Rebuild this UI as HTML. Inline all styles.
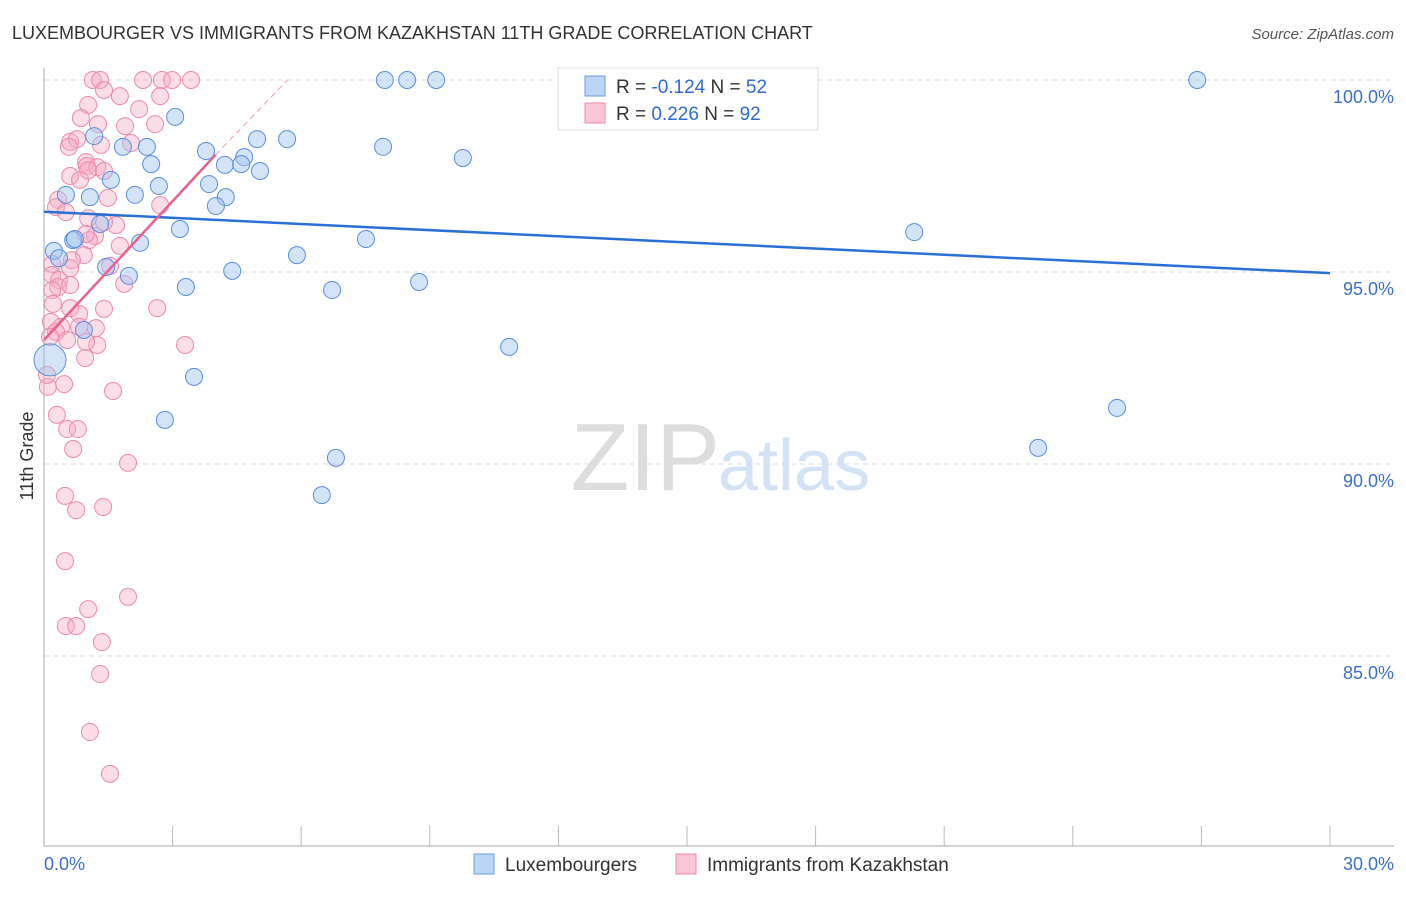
<!DOCTYPE html>
<html><head><meta charset="utf-8"><style>
body{margin:0;background:#fff;font-family:"Liberation Sans",sans-serif;}
svg text{font-family:"Liberation Sans",sans-serif;}
</style></head><body>
<svg width="1406" height="892">
<text x="12" y="39" font-size="18" fill="#333">LUXEMBOURGER VS IMMIGRANTS FROM KAZAKHSTAN 11TH GRADE CORRELATION CHART</text>
<text x="1394" y="39" font-size="15" fill="#555" text-anchor="end" font-style="italic">Source: ZipAtlas.com</text>
<text x="33" y="456" font-size="18" fill="#333" text-anchor="middle" transform="rotate(-90 33 456)">11th Grade</text>
<g id="grid"></g>
<text x="720" y="490" font-size="96" fill="#ddd" text-anchor="end" font-family="Liberation Serif">ZIP</text>
<text x="718" y="490" font-size="72" fill="#d3e2f5">atlas</text>
<line x1="44" y1="68" x2="44" y2="846" stroke="#aaa"/>
<line x1="44" y1="846" x2="1394" y2="846" stroke="#aaa"/>
<g id="pts"></g>
<g id="lines"></g>
<text x="44" y="870" font-size="18" fill="#3a70c8">0.0%</text>
<text x="1394" y="870" font-size="18" fill="#3a70c8" text-anchor="end">30.0%</text>
<g>
<rect x="558" y="68" width="260" height="62" fill="#fff" stroke="#ddd"/>
<rect x="585" y="76" width="20" height="20" fill="#bcd4f5" stroke="#6d9be0"/>
<rect x="585" y="103" width="20" height="20" fill="#f9c6d6" stroke="#ec8aaa"/>
<text x="616" y="93" font-size="19" fill="#333">R = <tspan fill="#2f6bd0">-0.124</tspan>   N = <tspan fill="#2f6bd0">52</tspan></text>
<text x="616" y="120" font-size="19" fill="#333">R =  <tspan fill="#2f6bd0">0.226</tspan>   N = <tspan fill="#2f6bd0">92</tspan></text>
</g>
<g>
<rect x="474" y="854" width="20" height="20" fill="#bcd4f5" stroke="#6d9be0"/>
<text x="505" y="871" font-size="19" fill="#333">Luxembourgers</text>
<rect x="676" y="854" width="20" height="20" fill="#f9c6d6" stroke="#ec8aaa"/>
<text x="707" y="871" font-size="19" fill="#333">Immigrants from Kazakhstan</text>
</g>
</svg>
<script>
const yTicks=[100,95,90,85];
const blueX=[7.95,8.47,9.15,26.9,3.06,1.17,1.84,2.4,4.97,5.67,7.91,9.77,3.78,4.67,2.5,4.22,4.6,5.04,1.56,2.68,3.85,0.51,2.12,1.07,4.24,4.01,1.31,3.17,0.68,2.24,0.72,20.3,7.51,0.23,0.35,5.9,1.45,1.98,4.39,3.31,6.72,8.75,0.93,3.5,10.85,2.82,25.03,6.81,23.19,6.48,0.14];
const blueY=[100,100,100,100,99.04,98.54,98.26,98.26,98.46,98.46,98.26,97.97,98.15,97.99,97.81,97.79,97.81,97.63,97.4,97.24,97.29,97.01,97.01,96.95,96.95,96.72,96.25,96.12,95.83,95.76,95.86,96.04,95.86,95.55,95.36,95.44,95.13,94.9,95.03,94.61,94.53,94.74,93.49,92.27,93.05,91.15,91.46,90.16,90.42,89.19,92.71];
const pinkX=[1.14,1.31,2.75,2.99,3.43,1.4,1.77,1.03,2.22,0.86,1.26,1.89,0.61,0.77,0.58,1.33,2.03,0.98,0.61,1.0,1.24,0.84,1.49,0.33,0.28,1.68,1.03,1.4,1.19,1.05,2.71,0.93,1.77,1.54,0.98,0.65,0.19,0.19,0.35,0.33,0.19,0.61,0.21,0.61,0.82,1.4,1.87,2.64,0.4,0.82,1.21,0.16,0.28,0.54,1.24,0.96,0.14,3.29,0.98,1.61,0.47,0.09,0.07,0.3,0.54,0.79,0.68,1.96,0.49,0.75,1.38,0.49,1.96,1.03,0.51,0.75,1.35,1.31,1.07,1.54,1.03,0.51,0.61,2.71,2.31,1.40,2.59];
const pinkY=[100,100,100,100,100,99.74,99.58,99.35,99.24,99.01,98.85,98.8,98.39,98.46,98.26,98.31,98.36,97.86,97.5,97.76,97.73,97.4,96.93,96.88,96.69,96.22,96.4,96.3,95.94,95.83,96.74,95.44,95.68,95.16,95.99,95.31,95.21,94.92,94.79,94.61,94.53,94.66,94.17,94.06,93.91,94.04,94.69,94.06,93.57,93.57,93.54,93.7,93.44,93.23,93.1,92.76,93.31,93.1,93.18,91.9,92.08,92.01,92.32,91.28,90.91,90.91,90.39,90.03,89.17,88.8,88.88,87.47,86.54,86.22,85.78,85.78,85.36,84.53,83.02,81.93,97.65,96.56,95.1,99.58,100,97.63,98.85];
const blueTrend=[96.57,94.97];
const pinkTrend=[[0,93.23],[4.0,98.05],[5.68,100]];
const NS='http://www.w3.org/2000/svg';
const xs=v=>44+v*42.87, ys=v=>80+(100-v)*38.4;
function mk(t,a,p){const e=document.createElementNS(NS,t);for(const k in a)e.setAttribute(k,a[k]);p.appendChild(e);return e;}
const g=document.getElementById('grid');
yTicks.forEach(t=>{
 const l=mk('line',{x1:44,x2:1394,y1:ys(t),y2:ys(t),stroke:'#ddd','stroke-dasharray':'5,4'},g);
 
 
 const tx=mk('text',{x:1394,y:ys(t)+23,'font-size':18,fill:'#3a70c8','text-anchor':'end'},g);
 tx.textContent=t.toFixed(1)+'%';
 
 
});
for(let i=1;i<=10;i++){const x=44+i*128.6;const l=mk('line',{x1:x,x2:x,y1:826,y2:846,stroke:'#bbb'},g);
 
 }
const P=document.getElementById('pts');
pinkX.forEach((x,i)=>{const c=mk('circle',{cx:xs(x),cy:ys(pinkY[i]),r:8.5,fill:'rgba(246,170,196,0.4)',stroke:'#ec8aaa','stroke-width':1},P);
 
 });
blueX.forEach((x,i)=>{const c=mk('circle',{cx:xs(x),cy:ys(blueY[i]),r:i==blueX.length-1?16:8.5,fill:'rgba(160,196,240,0.45)',stroke:'#5a8ee0','stroke-width':1},P);
 
 });
const L=document.getElementById('lines');
let b=mk('line',{x1:xs(0),y1:ys(blueTrend[0]),x2:xs(30),y2:ys(blueTrend[1]),stroke:'#2a6fd6','stroke-width':2.5},L);


let p=mk('line',{x1:xs(pinkTrend[0][0]),y1:ys(pinkTrend[0][1]),x2:xs(pinkTrend[1][0]),y2:ys(pinkTrend[1][1]),stroke:'#e8628a','stroke-width':2.5},L);


let d=mk('line',{x1:xs(pinkTrend[1][0]),y1:ys(pinkTrend[1][1]),x2:xs(pinkTrend[2][0]),y2:ys(pinkTrend[2][1]),stroke:'#eaa0b8','stroke-width':1,'stroke-dasharray':'6,4'},L);


</script>
</body></html>
